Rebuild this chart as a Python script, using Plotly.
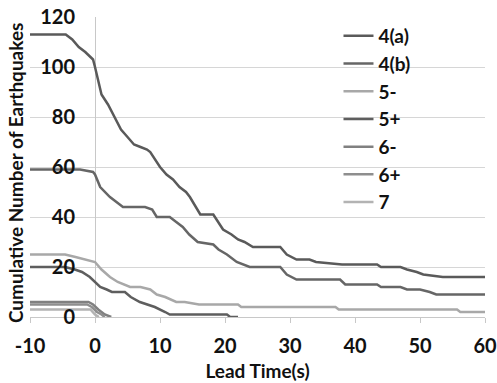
import plotly.graph_objects as go

# ---- data ----
names = ["4(a)", "4(b)", "5-", "5+", "6-", "6+", "7"]

x_4a = [-10, -4.5, -3.5, -2.5, -1.5, -0.3, 0, 0.5, 1, 2, 3, 4, 5, 6, 7, 8, 8.5, 9.2, 10, 11, 12, 13, 14, 14.6,
        15.5, 16.2, 18.2, 19, 19.7, 21, 22, 23, 24.3, 28.5, 29.5, 31, 33, 34, 38, 43.4, 44, 47, 48, 49.5, 50.5, 53.5, 60]
y_4a = [113, 113, 111, 108, 106, 103, 100, 95, 89, 85, 80, 75, 72, 69, 68, 67, 66, 63, 60, 57, 55, 52, 50, 48,
        44, 41, 41, 38, 35, 33, 31, 30, 28, 28, 25, 23, 23, 22, 21, 21, 20, 20, 19, 18, 17, 16, 16]

x_4b = [-10, -2.3, -0.3, 0, 0.8, 1.5, 2.3, 3.3, 4.3, 7.7, 8.8, 9.5, 11.5, 12.5, 13.5, 14.5, 15.8, 18.2, 19, 20.3,
        21.8, 23.8, 28.5, 29.5, 31, 37.7, 38.5, 43.4, 44, 47, 48, 50, 51.5, 52.5, 60]
y_4b = [59, 59, 58, 57, 52, 50, 48, 46, 44, 44, 43, 40, 40, 38, 36, 33, 30, 29, 27, 25,
        22, 20, 20, 17, 15, 15, 13, 13, 12, 12, 11, 11, 10, 9, 9]

x_5m = [-10, -4.6, -3, -1.5, 0, 1, 2.3, 3.5, 5.4, 7, 8.5, 9.5, 10.8, 12.5, 13.8, 16, 22, 22.5, 37, 37.5, 55.7, 56.2, 60]
y_5m = [25, 25, 24, 23, 22, 19, 16, 14, 12, 12, 11, 9, 8, 6, 6, 5, 5, 4, 4, 3, 3, 2, 2]

x_5p = [-10, -4.6, -3.1, -2, -0.8, 0, 0.8, 1.8, 2.6, 4.6, 5.5, 6.9, 8, 9.2, 10.8, 11.5, 20.3, 20.8, 22]
y_5p = [20, 20, 19, 18, 16, 14, 12, 11, 10, 10, 8, 6, 5, 4, 2, 1, 1, 0, 0]

x_6m = [-10, -1, -0.3, 0.5, 1.5, 2.5]
y_6m = [6, 6, 5, 3, 1, 0]

x_6p = [-10, -1.2, -0.5, 0.3, 1, 1.5]
y_6p = [5, 5, 4, 2, 1, 0]

x_7 = [-10, -0.7, 0, 0.6]
y_7 = [3, 3, 1, 0]

xs = [x_4a, x_4b, x_5m, x_5p, x_6m, x_6p, x_7]
ys = [y_4a, y_4b, y_5m, y_5p, y_6m, y_6p, y_7]
colors = ["#5a5a5a", "#666666", "#a8a8a8", "#5e5e5e", "#808080", "#8e8e8e", "#b3b3b3"]

x_ticks = [-10, 0, 10, 20, 30, 40, 50, 60]
y_ticks = [0, 20, 40, 60, 80, 100, 120]

FONT = "Lato"
fig = go.Figure()
for n, xv, yv, c in zip(names, xs, ys, colors):
    fig.add_trace(go.Scatter(x=xv, y=yv, mode="lines", name=n,
                             line=dict(color=c, width=2.5)))

fig.update_layout(
    width=497, height=383,
    margin=dict(l=30, r=12, t=17, b=66, autoexpand=False),
    paper_bgcolor="white", plot_bgcolor="white",
    font=dict(family=FONT, size=16, color="#111111"),
    showlegend=True,
    legend=dict(x=0.678, y=1.0, xanchor="left", yanchor="top",
                bgcolor="rgba(0,0,0,0)", itemwidth=30,
                font=dict(family=FONT, size=19, color="#111111", weight="bold")),
    xaxis=dict(range=[-10, 60], tickvals=x_ticks, ticktext=[str(v) for v in x_ticks],
               automargin=False, ticklabeloverflow="allow",
               showgrid=False, zeroline=True, zerolinecolor="#c8c8c8", zerolinewidth=1,
               showline=True, linecolor="#c8c8c8", linewidth=1,
               ticks="outside", ticklen=5, tickcolor="#c8c8c8",
               ticklabelstandoff=6,
               tickfont=dict(family=FONT, size=20, weight="bold"),
               title=dict(text="Lead Time(s)", standoff=8,
                          font=dict(family=FONT, size=19, weight="bold"))),
    yaxis=dict(range=[0, 120], tickvals=y_ticks, ticktext=[str(v) for v in y_ticks],
               automargin=False, ticklabeloverflow="allow",
               anchor="free", position=0.099, showline=False, zeroline=False,
               showgrid=True, gridcolor="#d6d6d6", gridwidth=1, ticks="",
               tickfont=dict(family=FONT, size=20, weight="bold")),
    annotations=[dict(text="<b>Cumulative Number of Earthquakes</b>", xref="paper", yref="paper",
                      x=-0.033, y=0.483, xanchor="center", yanchor="middle", textangle=-90,
                      showarrow=False, font=dict(family=FONT, size=19, color="#111111"))],
)

fig.write_html("out.html", config={"displayModeBar": False},
               post_script="document.body.style.margin='0';document.body.style.overflow='hidden';")
